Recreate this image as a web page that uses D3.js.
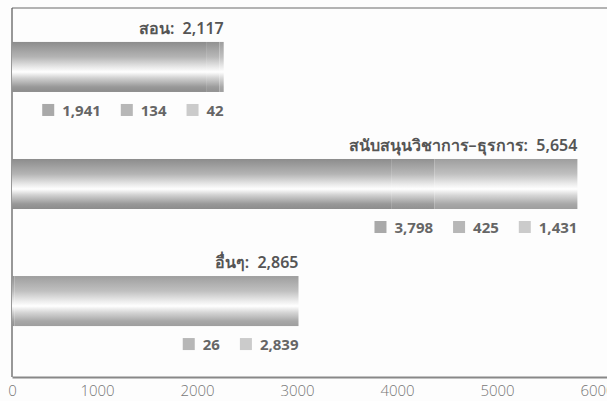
<!DOCTYPE html>
<html>
<head>
<meta charset="utf-8">
<script src="https://cdn.jsdelivr.net/npm/d3@7"></script>
<style>
  body { margin: 0; background: #fdfdfd; }
  svg { display: block; }
</style>
</head>
<body>
<div id="chart"></div>
<script>
const categories = ["สอน", "สนับสนุนวิชาการ–ธุรการ", "อื่นๆ"];
const series1 = [1941, 3798, 0];
const series2 = [134, 425, 26];
const series3 = [42, 1431, 2839];
const xTicks = [0, 1000, 2000, 3000, 4000, 5000, 6000];

const SERIES_TOP = ["#8c8c8c", "#919191", "#9e9e9e"];
const SERIES_KEY = ["#a9a9a9", "#b7b7b7", "#cbcbcb"];

const width = 607;
const height = 401;

const svg = d3.select("#chart")
    .append("svg")
    .attr("width", width)
    .attr("height", height);

const fmt = d3.format(",");
const allSeries = [series1, series2, series3];

const x = d3.scaleLinear()
    .domain([0, 6000])
    .range([12, 612]);

const y = d3.scaleBand()
    .domain(categories)
    .range([8, 360])
    .paddingInner(0.5726)
    .paddingOuter(0.29);

// cylinder look: dark top, white band a bit under the middle
const defs = svg.append("defs");
SERIES_TOP.forEach((c, i) => {
    const g = defs.append("linearGradient")
        .attr("id", "grad" + i)
        .attr("x1", 0).attr("y1", 0)
        .attr("x2", 0).attr("y2", 1);
    const light = d3.interpolateRgb(c, "#ffffff");
    [[0, c], [0.3, light(0.35)], [0.5, light(0.8)], [0.6, "#ffffff"], [0.72, light(0.6)], [0.9, light(0.1)], [1, c]]
        .forEach(s => g.append("stop").attr("offset", s[0]).attr("stop-color", s[1]));
});

// frame
svg.append("line")
    .attr("x1", 12).attr("x2", width)
    .attr("y1", 8).attr("y2", 8)
    .attr("stroke", "#6a6a6a")
    .attr("stroke-width", 1.2);

svg.append("line")
    .attr("x1", 12).attr("x2", 12)
    .attr("y1", 8).attr("y2", 377)
    .attr("stroke", "#555")
    .attr("stroke-width", 1.2);

// stacked segments
const stacked = categories.map((cat, i) => {
    let acc = 0;
    return allSeries.map((s, k) => {
        const seg = { cat: cat, k: k, x0: acc, x1: acc + s[i], v: s[i] };
        acc += s[i];
        return seg;
    });
});

svg.append("g")
    .selectAll("g")
    .data(stacked)
    .join("g")
    .selectAll("rect")
    .data(d => d.filter(s => s.v > 0))
    .join("rect")
    .attr("x", d => x(d.x0))
    .attr("y", d => y(d.cat))
    .attr("width", d => x(d.x1) - x(d.x0))
    .attr("height", y.bandwidth())
    .attr("fill", d => "url(#grad" + d.k + ")");

// category labels and little legends under each bar
categories.forEach((cat, i) => {
    const total = series1[i] + series2[i] + series3[i];
    const right = x(total);
    const top = y(cat);
    const bottom = top + y.bandwidth();

    svg.append("text")
        .attr("x", right)
        .attr("y", top - 8)
        .attr("text-anchor", "end")
        .attr("font-family", "'Noto Sans', 'Open Sans', sans-serif")
        .attr("font-size", 16)
        .attr("font-weight", 600)
        .attr("fill", "#555")
        .attr("xml:space", "preserve")
        .text(cat + ":  " + fmt(total));

    let cursor = right;
    for (let k = allSeries.length - 1; k >= 0; k--) {
        const v = allSeries[k][i];
        if (v <= 0) continue;
        const t = svg.append("text")
            .attr("x", cursor)
            .attr("y", bottom + 24)
            .attr("text-anchor", "end")
            .attr("font-family", "'Open Sans', sans-serif")
            .attr("font-size", 15)
            .attr("font-weight", 700)
            .attr("fill", "#666")
            .text(fmt(v));
        const w = t.node().getComputedTextLength();
        svg.append("rect")
            .attr("x", cursor - w - 8 - 12)
            .attr("y", bottom + 12)
            .attr("width", 12)
            .attr("height", 12)
            .attr("fill", SERIES_KEY[k]);
        cursor = cursor - w - 8 - 12 - 20;
    }
});

// bottom axis
const xAxis = d3.axisBottom(x)
    .tickValues(xTicks)
    .tickSize(0)
    .tickPadding(8)
    .tickFormat(d => d);

const axisG = svg.append("g")
    .attr("transform", "translate(0,377)")
    .call(xAxis);

axisG.select(".domain")
    .attr("stroke", "#888")
    .attr("stroke-width", 2);

axisG.selectAll("text")
    .attr("dx", d => d === 0 ? 0 : -15)
    .attr("font-family", "'Open Sans', sans-serif")
    .attr("font-size", 15)
    .attr("font-weight", 300)
    .attr("fill", "#777");
</script>
</body>
</html>
